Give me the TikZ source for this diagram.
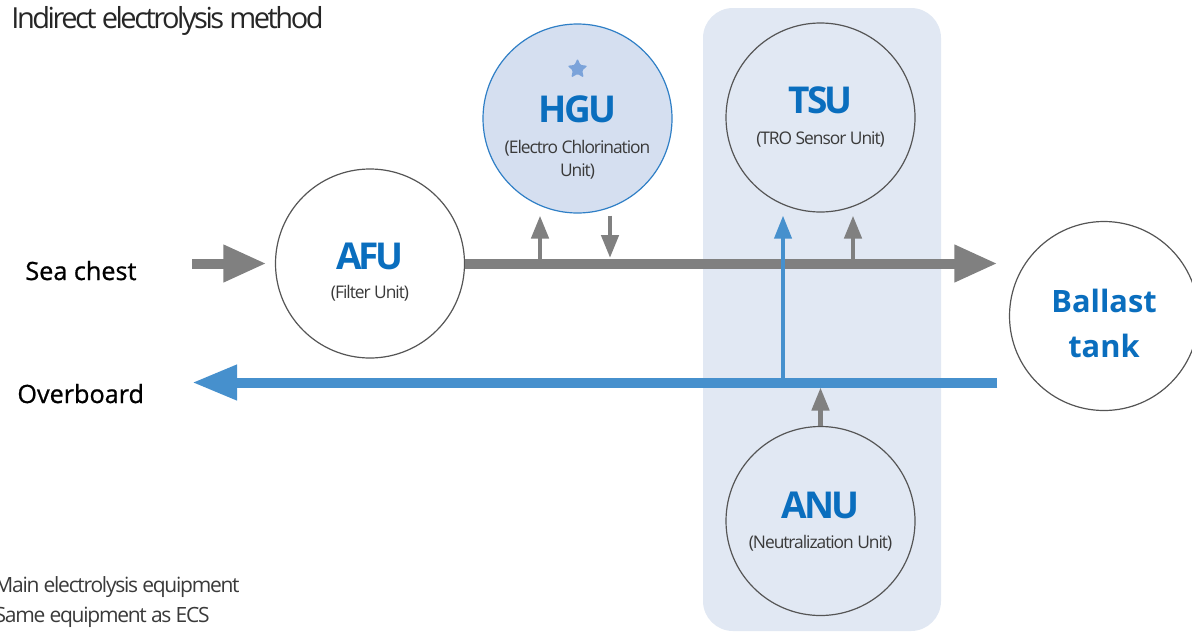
\documentclass[tikz,border=0pt]{standalone}
\usepackage{fontspec}
\setmainfont{Open Sans}
\newfontfamily\tightfont{Open Sans}[LetterSpace=-8]
\newfontfamily\subfont{Open Sans}[LetterSpace=-6]
\newfontfamily\titlefont{Open Sans}[LetterSpace=-8.5]
\newfontfamily\sidefont{Open Sans}[FakeBold=0.8]
\usetikzlibrary{arrows.meta,shapes.geometric}
\definecolor{arrowgray}{HTML}{808080}
\definecolor{flowblue}{HTML}{4690CD}
\definecolor{labelblue}{HTML}{0A6EBE}
\definecolor{panelblue}{HTML}{E1E8F3}
\definecolor{hgufill}{HTML}{D5DFF0}
\definecolor{hguline}{HTML}{2F7FC6}
\definecolor{starblue}{HTML}{7BA3DA}
\definecolor{ringgray}{HTML}{555555}
\definecolor{subgray}{HTML}{3A3A3A}
\tikzset{
  unitcircle/.style={circle, draw=ringgray, line width=0.6pt, minimum size=94.5pt, inner sep=0pt, fill=white},
  unittitle/.style={font=\tightfont\bfseries\fontsize{18.5}{20}\selectfont, text=labelblue, inner sep=0pt, anchor=base},
  unitsub/.style={font=\subfont\fontsize{8.7}{10}\selectfont, text=subgray, inner sep=0pt, anchor=base},
  sidelabel/.style={font=\sidefont\fontsize{12.6}{14}\selectfont, text=black, inner sep=0pt, anchor=base west},
  notetext/.style={font=\subfont\fontsize{10.5}{12}\selectfont, text=subgray, inner sep=0pt, anchor=base east},
  mainflow/.style={draw=arrowgray, line width=5pt, -{Triangle[length=21.5pt, width=17.5pt]}},
  returnflow/.style={draw=flowblue, line width=5pt, -{Triangle[length=22.5pt, width=16.5pt]}},
  smallgray/.style={draw=arrowgray, line width=2.3pt, -{Triangle[length=11.5pt, width=8.5pt]}},
  smallblue/.style={draw=flowblue, line width=2pt, -{Triangle[length=11.5pt, width=8.5pt]}},
}
\begin{document}
\begin{tikzpicture}[x=0.5pt, y=-0.5pt]
\useasboundingbox (0,0) rectangle (1192,632);
% panel
\fill[panelblue, rounded corners=15pt] (703,8) rectangle (941,631);
% title
\node[font=\titlefont\fontsize{14.5}{16}\selectfont, text=black!85, inner sep=0pt, anchor=base west] (title) at (11,28) {Indirect electrolysis method};
% units
\node[unitcircle] (afu) at (370,263.5) {};
\node[unitcircle, fill=hgufill, draw=hguline] (hgu) at (577.5,118.5) {};
\node[unitcircle, fill=none] (tsu) at (820.5,117.5) {};
\node[unitcircle, fill=none] (anu) at (820.5,521) {};
\node[unitcircle] (ballast) at (1104,316) {};
% labels in units
\node[unittitle] (afut) at (370,269) {AFU};
\node[unitsub] (afus) at (370,298) {(Filter Unit)};
\node[star, star points=5, star point ratio=2.1, fill=starblue, minimum size=10.5pt, inner sep=0pt, rounded corners=0.6pt] (hgustar) at (577.5,69) {};
\node[unittitle] (hgut) at (577.5,122) {HGU};
\node[unitsub] (hgus1) at (577.5,153) {(Electro Chlorination};
\node[unitsub] (hgus2) at (577.5,176) {Unit)};
\node[unittitle] (tsut) at (820.5,113) {TSU};
\node[unitsub] (tsus) at (820.5,144) {(TRO Sensor Unit)};
\node[unittitle] (anut) at (820.5,518) {ANU};
\node[unitsub] (anus) at (820.5,548) {(Neutralization Unit)};
\node[font=\bfseries\fontsize{15.4}{18}\selectfont, text=labelblue, inner sep=0pt, anchor=base] (ballt1) at (1104,312) {Ballast};
\node[font=\bfseries\fontsize{15.4}{18}\selectfont, text=labelblue, inner sep=0pt, anchor=base] (ballt2) at (1104,357) {tank};
% side labels
\node[sidelabel] (sea) at (25,280) {Sea chest};
\node[sidelabel] (over) at (17,403) {Overboard};
% notes
\node[notetext] (note1) at (240,592) {Main electrolysis equipment};
\node[notetext] (note2) at (210,622) {Same equipment as ECS};
% coordinates
\coordinate (seastart) at (192,263.5);
\coordinate (overtip) at (192,382.5);
\coordinate (bluejoin) at (783,382.5);
\coordinate (hguup) at (540,263.5);
\coordinate (hgudown) at (610,258);
\coordinate (tsuup) at (853,263.5);
% flows
\draw[mainflow, shorten >=4.25pt] (seastart) -- (afu.west);
\draw[mainflow, shorten >=5.75pt] (afu.east) -- (ballast.west |- afu.east);
\draw[returnflow, shorten <=5.75pt] (ballast.west |- bluejoin) -- (overtip);
\draw[smallblue, shorten >=1.5pt] (bluejoin) -- (bluejoin |- tsu.south);
\draw[smallgray, shorten >=1pt] (hguup) -- (hguup |- hgu.south);
\draw[smallgray, shorten <=1pt] (hgudown |- hgu.south) -- (hgudown);
\draw[smallgray, shorten >=1.5pt] (tsuup) -- (tsuup |- tsu.south);
\draw[smallgray, shorten >=2.5pt] (anu.north) -- (anu.north |- bluejoin);
\end{tikzpicture}
\end{document}
